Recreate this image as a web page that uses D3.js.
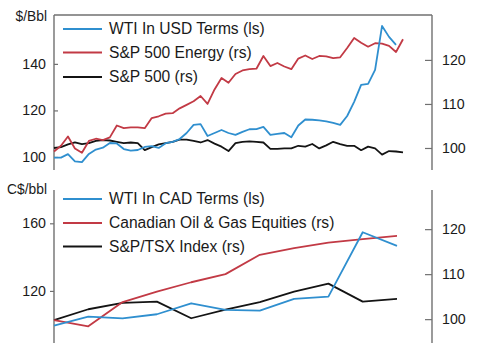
<!DOCTYPE html>
<html><head><meta charset="utf-8">
<script src="https://cdn.jsdelivr.net/npm/d3@7"></script>
<style>body{margin:0;background:#fff;}text{font-family:"Liberation Sans",Arial,sans-serif;fill:#1a1a1a;}</style>
</head><body><svg id="c" width="485" height="360"></svg>
<script>
// ---- Top panel data (weekly points) ----
const wtiUSD = [99.7,99.7,101.2,98.1,97.8,101.3,103.2,104.0,106.0,105.8,103.4,102.7,103.0,104.3,104.7,103.9,105.9,106.5,107.7,110.3,113.8,114.1,109.0,110.3,111.6,110.3,109.5,110.8,111.9,112.0,112.9,109.5,109.9,110.3,108.5,113.5,116.1,116.0,115.7,115.3,114.6,113.8,117.6,123.7,131.0,131.4,137.4,156.3,151.6,148.2];
const spEnergy = [99.2,100.5,102.6,99.9,98.9,101.6,102.1,101.8,102.4,105.1,104.5,104.7,104.7,104.5,106.8,107.2,107.8,107.9,109.0,109.8,110.6,111.8,110.0,113.3,115.9,114.8,116.8,117.6,117.9,118.0,120.9,118.6,119.3,118.5,117.9,120.3,121.0,120.2,120.9,120.8,120.4,120.6,122.7,125.0,123.9,123.0,123.8,123.7,123.2,121.8,124.7];
const sp500 = [100.0,100.2,100.8,101.25,100.9,101.1,101.6,101.8,101.7,101.4,101.1,101.25,101.1,99.5,100.2,100.8,101.1,101.4,101.9,101.9,101.6,101.25,101.8,101.0,100.3,99.3,101.1,101.4,101.5,101.4,101.25,99.8,99.8,99.9,99.9,100.5,100.3,100.9,99.9,100.6,101.4,100.9,100.5,100.5,99.5,100.3,99.9,98.5,99.3,99.2,99.0];
const topLeftTicks = [100,120,140];
const topRightTicks = [100,110,120];
const topLegend = ["WTI In USD Terms (ls)","S&P 500 Energy (rs)","S&P 500 (rs)"];

// ---- Bottom panel data (monthly points) ----
const wtiCAD = [99.5,104.8,103.8,106.2,112.7,108.8,108.3,115.3,116.6,154.7,146.6];
const cadOilGas = [99.8,98.4,103.8,106.1,108.2,110.0,114.3,115.8,117.0,117.8,118.5];
const tsx = [99.8,102.2,103.6,103.9,100.2,102.1,103.8,106.1,107.9,103.9,104.5];
const botLeftTicks = [120,160];
const botRightTicks = [100,110,120];
const botLegend = ["WTI In CAD Terms (ls)","Canadian Oil & Gas Equities (rs)","S&P/TSX Index (rs)"];

const BLUE="#2f8fcf", RED="#c23a45", BLACK="#141414", AX="#707070";
const svg = d3.select("#c");
const L=54, R=432;

function styleAxis(g){
  g.select(".domain").remove();
  g.selectAll(".tick line").attr("stroke",AX).attr("stroke-width",1.2);
  g.selectAll(".tick text").attr("font-size",14.2).attr("fill","#1a1a1a");
}

function panel(o){
  const yL = d3.scaleLinear().domain(o.leftDomain).range([o.bottom,o.top]);
  const yR = d3.scaleLinear().domain(o.rightDomain).range([o.bottom,o.top]);
  const x = d3.scaleLinear().domain([0,o.n-1]).range([L,o.xEnd]);
  svg.append("line").attr("x1",L).attr("x2",L).attr("y1",o.top).attr("y2",o.bottom).attr("stroke",AX).attr("stroke-width",1.4);
  svg.append("line").attr("x1",R).attr("x2",R).attr("y1",o.top).attr("y2",o.bottom).attr("stroke",AX).attr("stroke-width",1.4);
  if(o.topBorder) svg.append("line").attr("x1",L).attr("x2",R).attr("y1",o.top).attr("y2",o.top).attr("stroke",AX).attr("stroke-width",1.4);
  const gl = svg.append("g").attr("transform",`translate(${L},0)`)
    .call(d3.axisLeft(yL).tickValues(o.leftTicks).tickSize(o.leftTickSize).tickPadding(o.leftPad).tickFormat(d3.format("d")));
  styleAxis(gl);
  const gr = svg.append("g").attr("transform",`translate(${R},0)`)
    .call(d3.axisRight(yR).tickValues(o.rightTicks).tickSize(-7).tickPadding(10).tickFormat(d3.format("d")));
  styleAxis(gr);
  svg.append("text").attr("x",47).attr("y",o.unitY).attr("text-anchor","end").attr("font-size",13.8).text(o.unit);
  // draw order: black, red, blue on top
  o.drawOrder.forEach(idx=>{
    const s = o.series[idx];
    const line = d3.line().x((d,i)=>x(i)).y(d=>(s.side==="l"?yL:yR)(d));
    svg.append("path").datum(s.values).attr("fill","none").attr("stroke",s.color)
      .attr("stroke-width",1.8).attr("stroke-linejoin","round").attr("d",line);
  });
  o.series.forEach((s,i)=>{
    const y = o.legendY[i];
    svg.append("line").attr("x1",63).attr("x2",102).attr("y1",y).attr("y2",y).attr("stroke",s.color).attr("stroke-width",2);
    svg.append("text").attr("x",109).attr("y",y+5).attr("font-size",15.6).text(o.legend[i]);
  });
}

panel({
  top:15, bottom:170, xEnd:403, n:51, topBorder:true,
  leftDomain:[94.4,161], rightDomain:[95,130.2],
  leftTicks:topLeftTicks, rightTicks:topRightTicks,
  leftTickSize:-4, leftPad:8,
  unit:"$/Bbl", unitY:21,
  legend:topLegend, legendY:[29,52.5,77],
  series:[
    {values:wtiUSD,color:BLUE,side:"l"},
    {values:spEnergy,color:RED,side:"r"},
    {values:sp500,color:BLACK,side:"r"}
  ],
  drawOrder:[2,1,0]
});

panel({
  top:190, bottom:343, xEnd:397, n:11, topBorder:false,
  leftDomain:[89.2,179.7], rightDomain:[94.7,128.7],
  leftTicks:botLeftTicks, rightTicks:botRightTicks,
  leftTickSize:4, leftPad:4,
  unit:"C$/bbl", unitY:194,
  legend:botLegend, legendY:[199,223,246.5],
  series:[
    {values:wtiCAD,color:BLUE,side:"l"},
    {values:cadOilGas,color:RED,side:"r"},
    {values:tsx,color:BLACK,side:"r"}
  ],
  drawOrder:[2,1,0]
});
</script></body></html>
